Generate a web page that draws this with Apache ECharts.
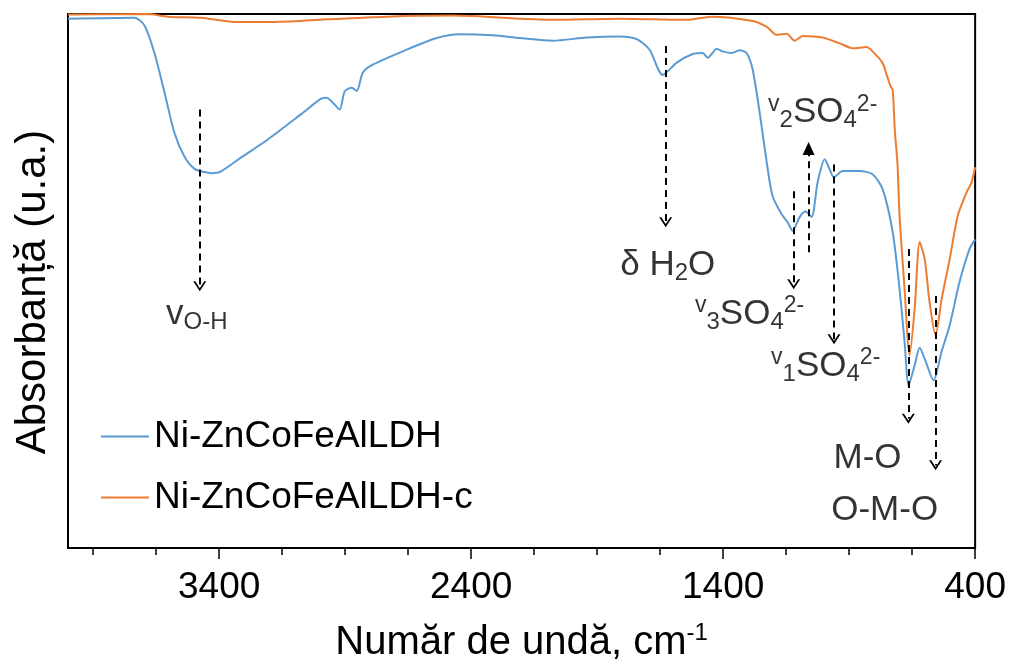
<!DOCTYPE html>
<html>
<head>
<meta charset="utf-8">
<script src="https://cdn.jsdelivr.net/npm/echarts@6/dist/echarts.min.js"></script>
<style>html,body{margin:0;padding:0;background:#fff}#c{width:1009px;height:668px}</style>
</head>
<body>
<div id="c"></div>
<script>
// ---- data (wavenumber cm-1, absorbance in arbitrary units) ----
const blueX = [4000,3736,3697,3657,3617,3578,3538,3498,3459,3430,3394,3314,3207,3076,2997,2974,2949,2922,2902,2874,2854,2830,2791,2672,2537,2445,2315,2207,2076,1942,1811,1743,1692,1640,1584,1521,1481,1461,1442,1426,1402,1366,1334,1307,1283,1255,1227,1204,1168,1144,1124,1096,1073,1049,1025,997,977,961,926,858,807,767,727,700,680,664,640,620,600,565,533,501,462,422,400];
const blueY = [99.1,99.3,97.9,92.7,85.3,77.8,73.3,71.0,70.4,70.2,70.5,73.1,76.5,81.2,84.1,84.3,83.4,82.1,85.5,86.2,85.6,89.0,90.5,93.0,95.5,96.2,96.0,95.5,95.0,95.6,95.8,95.3,93.3,88.6,90.9,92.5,92.7,91.8,92.7,93.5,93.0,92.7,93.2,92.7,89.6,81.5,72.2,65.9,62.5,61.0,59.4,62.0,63.0,62.0,68.5,72.8,70.9,69.4,70.6,70.6,70.0,67.2,59.1,48.5,38.6,30.5,34.2,37.5,35.4,31.4,36.8,41.7,49.8,56.0,57.8];
const orangeX = [4000,3683,3604,3473,3338,3207,3076,2969,2735,2473,2076,1811,1680,1545,1446,1283,1227,1188,1148,1116,1084,1005,938,886,831,807,767,751,735,727,719,708,700,680,660,640,620,600,581,557,533,501,469,434,414,400];
const orangeY = [99.9,100,99.5,99.3,98.5,98.5,98.7,99.0,99.5,99.7,98.9,99.1,99.0,98.9,99.5,98.7,97.6,96.1,96.3,95.0,95.9,95.6,94.5,93.6,93.8,93.0,90.8,88.6,86.4,85.8,78.4,71.8,62.2,48.5,36.1,44.8,57.3,54.1,46.1,39.8,46.6,54.1,62.2,66.6,68.5,71.3];
const seriesNames = ['Ni-ZnCoFeAlLDH', 'Ni-ZnCoFeAlLDH-c'];

// tick labels / tick values
const majorTicks = [400, 1400, 2400, 3400];
const minorTicks = [400,650,900,1150,1400,1650,1900,2150,2400,2650,2900,3150,3400,3650,3900];

// annotation arrows: wavenumber, start value, end value, head type
const annX    = [3477, 1628, 1120, 1061, 960, 665, 557];
const annFrom = [82.1, 94.0, 66.8, 55.4, 71.8, 56.0, 47.2];
const annTo   = [49.0, 61.0, 49.4, 74.8, 39.1, 24.2, 15.5];
const annKind = ['open','open','open','filled','open','open','open'];

// annotation labels
const labX = [3489, 1620, 1295, 1005, 993, 827, 759];
const labY = [43.8, 53.0, 43.8, 81.5, 34.0, 16.8, 7.1];
const labText = [
  '{n|v}{sb|O-H}',
  '{n|δ H}{sb|2}{n|O}',
  '{sp|v}{sb|3}{n|SO}{sb|4}{sp|2-}',
  '{sp|v}{sb|2}{n|SO}{sb|4}{sp|2-}',
  '{sp|v}{sb|1}{n|SO}{sb|4}{sp|2-}',
  '{n|M-O}',
  '{n|O-M-O}'
];

const FONT = '"Liberation Sans", Arial, sans-serif';
const chevron = 'path://M0,10 L5,0 L10,10 L8.4,10 L5,3.2 L1.6,10 Z';

const pair = (xs, ys) => xs.map((x, i) => [x, ys[i]]);

const markLines = annX.map((x, i) => [
  {coord: [x, annFrom[i]], symbol: 'none'},
  {coord: [x, annTo[i]], symbol: annKind[i] === 'open' ? chevron : 'triangle',
   symbolSize: annKind[i] === 'open' ? [13, 10] : [12, 13]}
]);

const labelData = labX.map((x, i) => ({value: [x, labY[i]], label: {formatter: labText[i]}}));

const chart = echarts.init(document.getElementById('c'), null, {renderer: 'canvas'});
chart.setOption({
  backgroundColor: '#fff',
  animation: false,
  textStyle: {fontFamily: FONT, color: '#000'},
  grid: {left: 68, right: 33, top: 14, bottom: 118, show: true, borderColor: '#000', borderWidth: 2, backgroundColor: 'transparent'},
  legend: {
    orient: 'vertical', left: 96, top: 413, itemGap: 24,
    icon: 'rect', itemWidth: 48, itemHeight: 2,
    data: seriesNames,
    textStyle: {fontSize: 37, color: '#000', fontFamily: FONT}
  },
  xAxis: [{
    type: 'value', min: 400, max: 4000, inverse: true, position: 'bottom',
    axisLine: {show: true, lineStyle: {color: '#000', width: 2}},
    axisTick: {show: true, length: 7, lineStyle: {color: '#000', width: 1.5}, customValues: minorTicks},
    axisLabel: {show: true, customValues: majorTicks, fontSize: 37, color: '#000', margin: 21, fontFamily: FONT,
                formatter: v => String(v)},
    splitLine: {show: false},
    name: '{a|Număr de undă, cm}{s|-1}',
    nameLocation: 'middle', nameGap: 73,
    nameTextStyle: {
      rich: {
        a: {fontSize: 40, color: '#000', fontFamily: FONT, lineHeight: 44},
        s: {fontSize: 24, color: '#000', fontFamily: FONT, verticalAlign: 'top', lineHeight: 22}
      }
    }
  }, {
    type: 'value', min: 400, max: 4000, inverse: true, position: 'bottom', offset: 0,
    axisLine: {show: false},
    axisTick: {show: true, length: 11, lineStyle: {color: '#000', width: 1.5}, customValues: majorTicks},
    axisLabel: {show: false},
    splitLine: {show: false}
  }],
  yAxis: {
    type: 'value', min: 0, max: 100,
    axisLine: {show: true, lineStyle: {color: '#000', width: 2}},
    axisTick: {show: false}, axisLabel: {show: false}, splitLine: {show: false},
    name: 'Absorbanță (u.a.)', nameLocation: 'middle', nameGap: 14,
    nameTextStyle: {fontSize: 42, color: '#000', fontFamily: FONT, padding: [0, 22, 0, 0]}
  },
  series: [{
    name: seriesNames[0], type: 'line', data: pair(blueX, blueY),
    showSymbol: false, symbol: 'none', smooth: 0.25,
    lineStyle: {color: '#5B9BD5', width: 2}, itemStyle: {color: '#5B9BD5'}, z: 3
  }, {
    name: seriesNames[1], type: 'line', data: pair(orangeX, orangeY),
    showSymbol: false, symbol: 'none', smooth: 0.25,
    lineStyle: {color: '#ED7D31', width: 2}, itemStyle: {color: '#ED7D31'}, z: 2
  }, {
    name: 'annotations', type: 'scatter', symbolSize: 0, silent: true, z: 5,
    data: labelData,
    label: {
      show: true, position: 'inside', color: '#000', align: 'center', verticalAlign: 'middle',
      rich: {
        n: {fontSize: 35, color: '#000', fontFamily: FONT, lineHeight: 40},
        sb: {fontSize: 24, color: '#000', fontFamily: FONT, lineHeight: 14, verticalAlign: 'bottom'},
        sp: {fontSize: 23, color: '#000', fontFamily: FONT, lineHeight: 20, verticalAlign: 'top'}
      }
    },
    markLine: {
      silent: true, animation: false,
      label: {show: false},
      lineStyle: {color: '#000', width: 2, type: [7, 5]},
      itemStyle: {color: '#000'},
      emphasis: {disabled: true},
      data: markLines
    }
  }]
});
</script>
</body>
</html>
